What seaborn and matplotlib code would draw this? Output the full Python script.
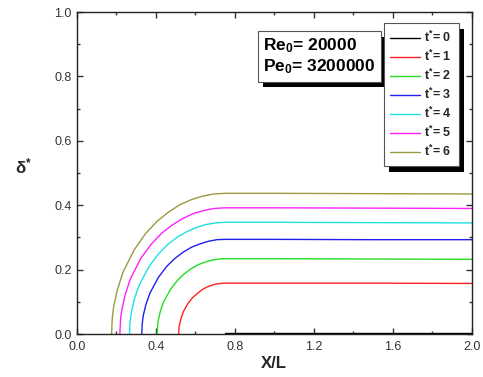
import matplotlib
matplotlib.use("Agg")
import matplotlib.pyplot as plt
import matplotlib.patheffects as pe
from matplotlib.ticker import MultipleLocator
import seaborn as sns
import pandas as pd

# ---- data ----
x_t0 = [0.75, 1.0, 1.5, 2.0]
y_t0 = [0.004, 0.004, 0.004, 0.004]

x_t1 = [0.516, 0.517, 0.518, 0.521, 0.528, 0.539, 0.563, 0.586, 0.610, 0.633, 0.656, 0.680, 0.703, 0.727, 0.75, 1.0, 1.5, 2.0]
y_t1 = [0.0, 0.016, 0.022, 0.031, 0.049, 0.069, 0.095, 0.113, 0.126, 0.137, 0.145, 0.151, 0.155, 0.157, 0.158, 0.158, 0.158, 0.157]

x_t2 = [0.407, 0.409, 0.410, 0.414, 0.424, 0.441, 0.476, 0.510, 0.544, 0.579, 0.613, 0.647, 0.681, 0.716, 0.75, 1.0, 1.5, 2.0]
y_t2 = [0.0, 0.023, 0.033, 0.047, 0.073, 0.102, 0.140, 0.167, 0.187, 0.203, 0.215, 0.223, 0.229, 0.233, 0.234, 0.234, 0.233, 0.232]

x_t3 = [0.329, 0.331, 0.333, 0.337, 0.350, 0.371, 0.413, 0.455, 0.497, 0.540, 0.582, 0.624, 0.666, 0.708, 0.75, 1.0, 1.5, 2.0]
y_t3 = [0.0, 0.029, 0.041, 0.059, 0.092, 0.128, 0.176, 0.210, 0.235, 0.255, 0.270, 0.280, 0.288, 0.293, 0.294, 0.294, 0.293, 0.293]

x_t4 = [0.267, 0.269, 0.272, 0.277, 0.291, 0.315, 0.364, 0.412, 0.460, 0.509, 0.557, 0.605, 0.653, 0.702, 0.75, 1.0, 1.5, 2.0]
y_t4 = [0.0, 0.035, 0.049, 0.069, 0.108, 0.151, 0.208, 0.248, 0.278, 0.301, 0.318, 0.331, 0.340, 0.345, 0.347, 0.347, 0.346, 0.345]

x_t5 = [0.218, 0.221, 0.223, 0.229, 0.245, 0.271, 0.324, 0.378, 0.431, 0.484, 0.537, 0.590, 0.644, 0.697, 0.75, 1.0, 1.5, 2.0]
y_t5 = [0.0, 0.039, 0.055, 0.078, 0.122, 0.171, 0.235, 0.280, 0.314, 0.339, 0.359, 0.374, 0.384, 0.390, 0.392, 0.392, 0.391, 0.390]

x_t6 = [0.176, 0.179, 0.182, 0.187, 0.205, 0.233, 0.291, 0.348, 0.406, 0.463, 0.520, 0.578, 0.635, 0.693, 0.75, 1.0, 1.5, 2.0]
y_t6 = [0.0, 0.044, 0.062, 0.087, 0.136, 0.191, 0.262, 0.312, 0.350, 0.378, 0.401, 0.417, 0.428, 0.435, 0.437, 0.437, 0.436, 0.435]

series_labels = ["t$^{*}$= 0", "t$^{*}$= 1", "t$^{*}$= 2", "t$^{*}$= 3", "t$^{*}$= 4", "t$^{*}$= 5", "t$^{*}$= 6"]
series_colors = ["#000000", "#ff2020", "#22dd22", "#2020ee", "#20e0e0", "#ff20ff", "#9a9a40"]
xs = [x_t0, x_t1, x_t2, x_t3, x_t4, x_t5, x_t6]
ys = [y_t0, y_t1, y_t2, y_t3, y_t4, y_t5, y_t6]

xticks = [0.0, 0.4, 0.8, 1.2, 1.6, 2.0]
yticks = [0.0, 0.2, 0.4, 0.6, 0.8, 1.0]

sns.set_style("ticks")
plt.rcParams["font.family"] = ["Liberation Sans", "DejaVu Sans"]
plt.rcParams["mathtext.default"] = "regular"

fig = plt.figure(figsize=(4.83, 3.77), dpi=100)
ax = fig.add_axes([0.159, 0.114, 0.818, 0.854])

for x, y, lab, col in zip(xs, ys, series_labels, series_colors):
    df = pd.DataFrame({"x": x, "y": y})
    sns.lineplot(data=df, x="x", y="y", ax=ax, color=col, label=lab,
                 sort=False, estimator=None, linewidth=1.0)

ax.set_xlim(0, 2.0)
ax.set_ylim(0, 1.0)
ax.set_xticks(xticks)
ax.set_yticks(yticks)
ax.set_xticklabels([f"{v:.1f}" for v in xticks])
ax.set_yticklabels([f"{v:.1f}" for v in yticks])
ax.xaxis.set_minor_locator(MultipleLocator(0.2))
ax.yaxis.set_minor_locator(MultipleLocator(0.1))
ax.tick_params(which="both", direction="in", top=True, right=True, labelsize=9, colors="#333333")
ax.tick_params(which="major", length=4, width=1)
ax.tick_params(which="minor", length=2.5, width=1)
ax.tick_params(axis="x", pad=5)
for s in ax.spines.values():
    s.set_linewidth(1.0)
    s.set_color("#222222")

ax.set_xlabel("X/L", fontsize=12, fontweight="bold", labelpad=2)
ax.set_ylabel("δ$^{*}$", fontsize=12, fontweight="bold", rotation=0)
ax.yaxis.set_label_coords(-0.135, 0.49)

shadow_fx = [pe.SimplePatchShadow(offset=(4, -4), shadow_rgbFace="black", alpha=1.0), pe.Normal()]

leg = ax.legend(loc="upper right", bbox_to_anchor=(0.967, 0.965), bbox_transform=ax.transAxes,
                frameon=True, fancybox=False, framealpha=1.0,
                shadow=False, handlelength=2.4, handletextpad=0.3,
                labelspacing=0.3, borderpad=0.55, borderaxespad=0.0,
                prop={"weight": "bold", "size": 9})
leg.get_frame().set_edgecolor("#555555")
leg.get_frame().set_linewidth(0.8)
leg.get_frame().set_facecolor("white")
leg.get_frame().set_path_effects(shadow_fx)

# text box with shadow
txt = "Re$_0$= 20000\nPe$_0$= 3200000"
t = ax.text(0.471, 0.925, txt, transform=ax.transAxes, fontsize=12.5, fontweight="bold",
            va="top", ha="left", color="black", linespacing=1.2,
            bbox=dict(boxstyle="square,pad=0.3", facecolor="white", edgecolor="#555555", linewidth=0.8))
t.get_bbox_patch().set_path_effects(shadow_fx)

fig.savefig("out.png", dpi=100)
